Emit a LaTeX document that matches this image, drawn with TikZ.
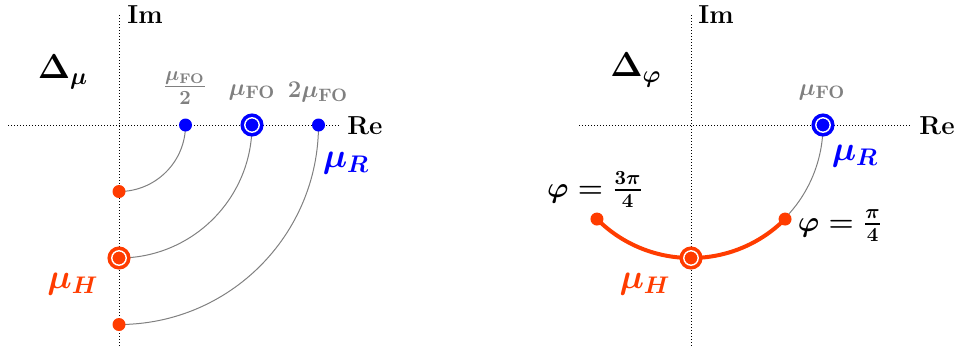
\documentclass[tikz,border=0pt]{standalone}
\usepackage{amsmath}
\definecolor{myred}{RGB}{255,60,0}
\definecolor{myblue}{RGB}{0,0,255}
\definecolor{mygray}{RGB}{128,128,128}
\begin{document}
\begin{tikzpicture}[x=0.5pt,y=0.5pt,
  axis/.style={densely dotted, line width=0.5pt},
  bdot/.style={circle, fill=myblue, inner sep=0pt, minimum size=6.5pt},
  rdot/.style={circle, fill=myred, inner sep=0pt, minimum size=6.5pt},
  bring/.style={circle, fill=myblue, draw=myblue, line width=1.8pt, inner sep=0pt, minimum size=7.2pt, double=white, double distance=0.7pt},
  rring/.style={circle, fill=myred, draw=myred, line width=1.8pt, inner sep=0pt, minimum size=7.2pt, double=white, double distance=0.7pt},
  con/.style={mygray, line width=0.5pt},
  lbl/.style={font=\fontsize{13}{15}\selectfont\bfseries\boldmath, inner sep=0pt},
  big/.style={font=\LARGE\bfseries\boldmath, inner sep=0pt},
  glbl/.style={lbl, text=mygray}]
\useasboundingbox (0,0) rectangle (957,-349);
% ---------- left panel ----------
\draw[axis] (119,-15) -- (119,-347);
\draw[axis] (8,-125) -- (340,-125);
\node[lbl] (imL) at (145,-15) {Im};
\node[lbl] (reL) at (365,-126) {Re};
\node[big, font=\fontsize{18.5}{22}\selectfont\bfseries\boldmath] (dmu) at (63,-72) {$\Delta_{\mu}$};
\coordinate (r1) at (185.5,-125);
\coordinate (r2) at (252,-125);
\coordinate (r3) at (318.5,-125);
\coordinate (h1) at (119,-191.5);
\coordinate (h2) at (119,-258);
\coordinate (h3) at (119,-324.5);
\draw[con] (r1) arc[start angle=0,end angle=-90,radius=66.5];
\draw[con] (r2) arc[start angle=0,end angle=-90,radius=133];
\draw[con] (r3) arc[start angle=0,end angle=-90,radius=199.5];
\node[bdot] (R1) at (r1) {};
\node[bring] (R2) at (r2) {};
\node[bdot] (R3) at (r3) {};
\node[rdot] (H1) at (h1) {};
\node[rring] (H2) at (h2) {};
\node[rdot] (H3) at (h3) {};
\node[glbl, font=\Large\bfseries\boldmath] (l1) at (185,-88) {$\frac{\mu_{\mathbf{FO}}}{2}$};
\node[glbl] (l2) at (252,-92) {$\mu_{\mathbf{FO}}$};
\node[glbl] (l3) at (318,-92) {$2\mu_{\mathbf{FO}}$};
\node[big, text=myblue] (muRL) at (346,-163) {$\mu_R$};
\node[big, text=myred] (muHL) at (73,-284) {$\mu_H$};
% ---------- right panel ----------
\draw[axis] (691,-15) -- (691,-347);
\draw[axis] (579,-125) -- (910,-125);
\node[lbl] (imR) at (716,-15) {Im};
\node[lbl] (reR) at (937,-126) {Re};
\node[big, font=\fontsize{18.5}{22}\selectfont\bfseries\boldmath] (dphi) at (636,-70) {$\Delta_{\varphi}$};
\coordinate (rR) at (823,-125);
\coordinate (p1) at ({691+133*cos(45)},{-125-133*sin(45)});
\coordinate (p2) at (691,-258);
\coordinate (p3) at ({691-133*cos(45)},{-125-133*sin(45)});
\draw[con] (rR) arc[start angle=0,end angle=-45,radius=133];
\draw[myred, line width=2pt] (p1) arc[start angle=-45,end angle=-135,radius=133];
\node[bring] (RR) at (rR) {};
\node[rdot] (P1) at (p1) {};
\node[rring] (P2) at (p2) {};
\node[rdot] (P3) at (p3) {};
\node[glbl] (l4) at (822,-92) {$\mu_{\mathbf{FO}}$};
\node[big, text=myblue] (muRR) at (855,-156) {$\mu_R$};
\node[big, text=myred] (muHR) at (645,-284) {$\mu_H$};
\node[font=\Large\bfseries\boldmath, inner sep=0pt] (phi3) at (595,-190) {$\varphi=\frac{3\pi}{4}$};
\node[font=\Large\bfseries\boldmath, inner sep=0pt] (phi1) at (840,-226) {$\varphi=\frac{\pi}{4}$};
\end{tikzpicture}
\end{document}
